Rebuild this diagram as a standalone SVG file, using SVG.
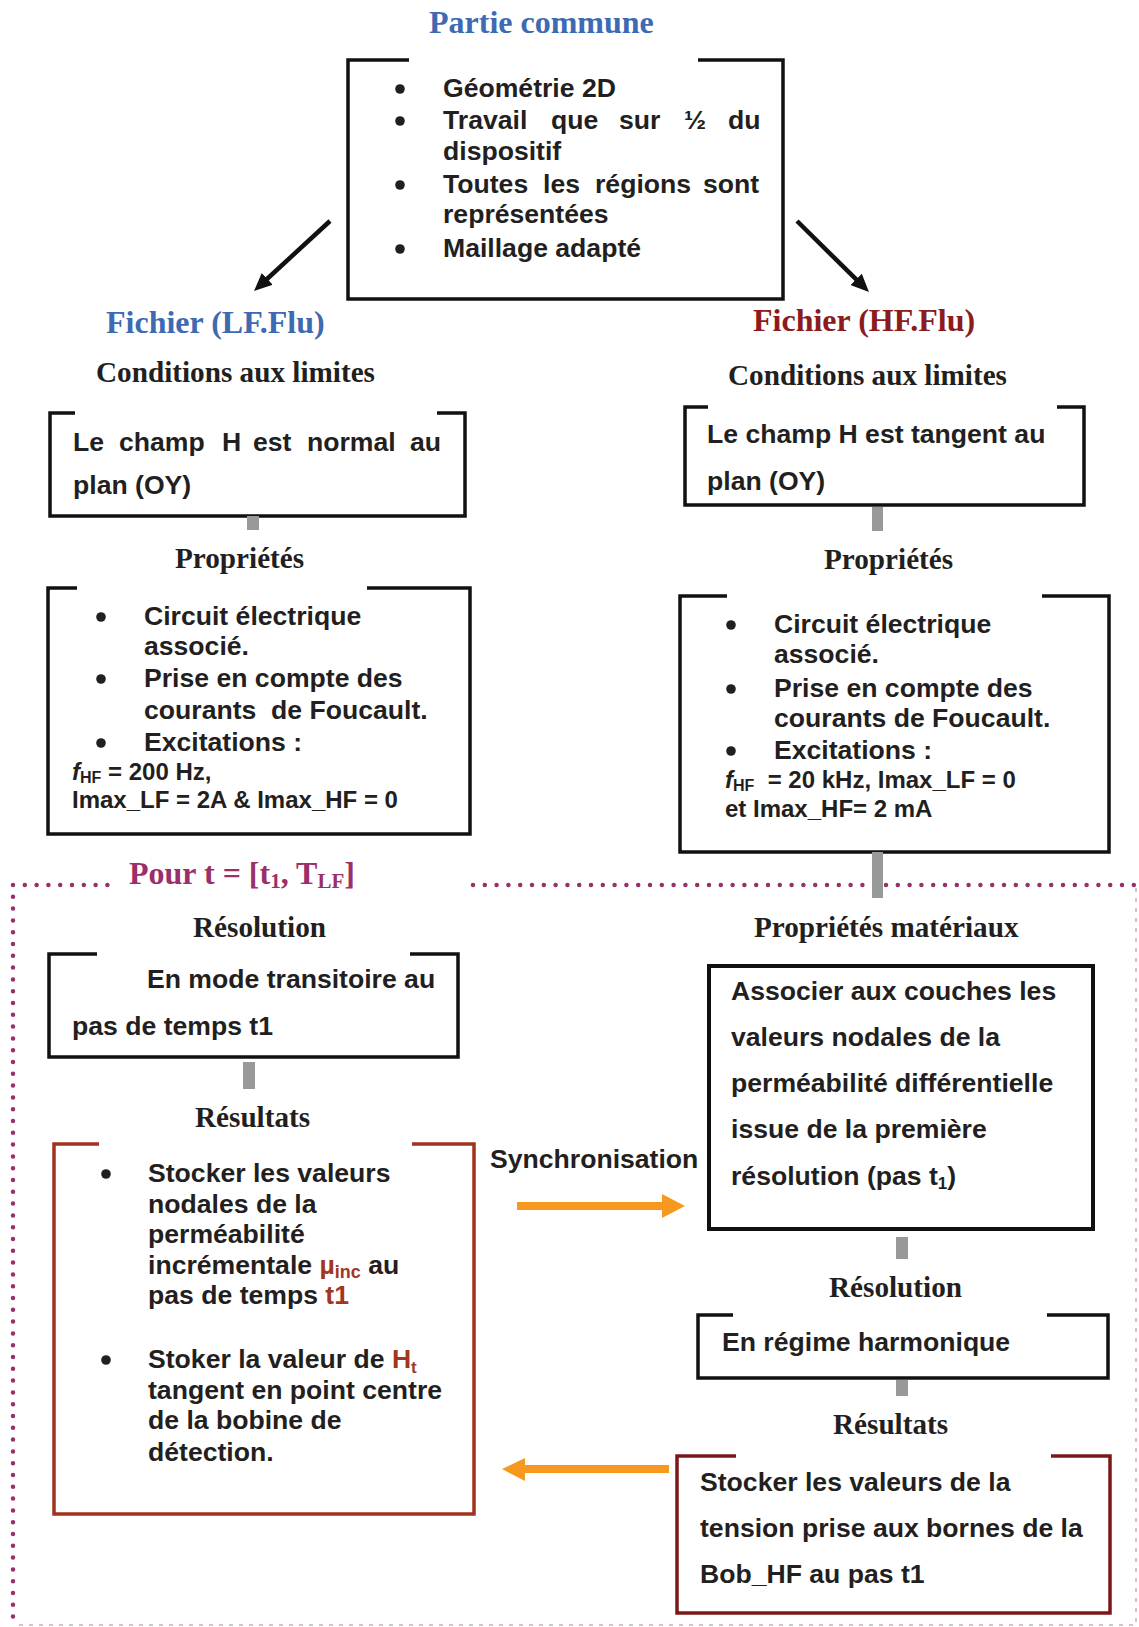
<svg xmlns="http://www.w3.org/2000/svg" width="1139" height="1627" viewBox="0 0 1139 1627">
<defs>
<style>
.s{font-family:"Liberation Sans",Arial,sans-serif;font-weight:bold;font-size:26.6px;fill:#231f20}
.sm{font-family:"Liberation Sans",Arial,sans-serif;font-weight:bold;font-size:24px;fill:#231f20}
.h{font-family:"Liberation Serif","Times New Roman",serif;font-weight:bold;font-size:29.2px;fill:#231f20}
.t{font-family:"Liberation Serif","Times New Roman",serif;font-weight:bold;font-size:32px}
.bul{fill:#231f20}
.box{fill:none;stroke:#111;stroke-width:3.5}
.rbox{fill:none;stroke:#a0331f;stroke-width:3.5}
.dbox{fill:none;stroke:#7d1618;stroke-width:3.5}
.red{fill:#a3361f}
.gray{fill:#999}
.org{fill:#f7991f}
</style>
<marker id="ah" markerUnits="userSpaceOnUse" viewBox="0 0 18 16" refX="4" refY="8" markerWidth="18" markerHeight="16" orient="auto">
<path d="M0,0 L18,8 L0,16 Z" fill="#111"/>
</marker>
</defs>
<rect width="1139" height="1627" fill="#fff"/>

<g id="loop-frame">
<path d="M13,885 H108 M473,885 H1134 M13,885 V1622" fill="none" stroke="#9b2f6a" stroke-width="4.5" stroke-linecap="round" stroke-dasharray="0 11.8"/>
<path d="M1136,888 V1625 H13" fill="none" stroke="#d9a3c2" stroke-width="1.5" stroke-dasharray="4 6"/>
<text x="129" y="884" class="t" fill="#9b2f6a" font-size="31">Pour t = [t<tspan font-size="21" dy="4">1</tspan><tspan dy="-4">, T</tspan><tspan font-size="21" dy="4">LF</tspan><tspan dy="-4">]</tspan></text>
</g>

<g id="partie-commune">
<text x="429" y="33" class="t" fill="#3d6ab3">Partie commune</text>
<path class="box" d="M409,60 H348 V299 H783 V60 H698"/>
<circle class="bul" cx="400" cy="89" r="4.8"/>
<circle class="bul" cx="400" cy="121" r="4.8"/>
<circle class="bul" cx="400" cy="185" r="4.8"/>
<circle class="bul" cx="400" cy="249" r="4.8"/>
<text x="443" y="97" class="s">Géométrie 2D</text>
<text y="129" class="s"><tspan x="443">Travail</tspan><tspan x="551">que</tspan><tspan x="619">sur</tspan><tspan x="684">½</tspan><tspan x="728">du</tspan></text>
<text x="443" y="160" class="s">dispositif</text>
<text y="193" class="s"><tspan x="443">Toutes</tspan><tspan x="543">les</tspan><tspan x="595">régions</tspan><tspan x="703">sont</tspan></text>
<text x="443" y="223" class="s">représentées</text>
<text x="443" y="257" class="s">Maillage adapté</text>
</g>

<g id="lf-cl">
<text x="106" y="333" class="t" fill="#3d6ab3">Fichier (LF.Flu)</text>
<text x="96" y="382" class="h">Conditions aux limites</text>
<path class="box" d="M75,413 H50 V516 H465 V413 H437"/>
<text y="451" class="s"><tspan x="73">Le</tspan><tspan x="119">champ</tspan><tspan x="222">H</tspan><tspan x="253">est</tspan><tspan x="307">normal</tspan><tspan x="410">au</tspan></text>
<text x="73" y="494" class="s">plan (OY)</text>
</g>

<g id="lf-prop">
<text x="175" y="568" class="h">Propriétés</text>
<path class="box" d="M77,588 H48 V834 H470 V588 H367"/>
<circle class="bul" cx="101" cy="617" r="4.8"/>
<circle class="bul" cx="101" cy="679" r="4.8"/>
<circle class="bul" cx="101" cy="743" r="4.8"/>
<text x="144" y="625" class="s">Circuit électrique</text>
<text x="144" y="655" class="s">associé.</text>
<text x="144" y="687" class="s">Prise en compte des</text>
<text x="144" y="719" class="s" xml:space="preserve">courants  de Foucault.</text>
<text x="144" y="751" class="s">Excitations :</text>
<text x="72" y="780" class="sm"><tspan font-style="italic">f</tspan><tspan font-size="16" dy="3">HF</tspan><tspan dy="-3"> = 200 Hz,</tspan></text>
<text x="72" y="808" class="sm">Imax_LF = 2A &amp; Imax_HF = 0</text>
</g>

<g id="hf-cl">
<text x="753" y="331" class="t" fill="#8b1b1d">Fichier (HF.Flu)</text>
<text x="728" y="385" class="h">Conditions aux limites</text>
<path class="box" d="M708,407 H685 V505 H1084 V407 H1057"/>
<text x="707" y="443" class="s">Le champ H est tangent au</text>
<text x="707" y="490" class="s">plan (OY)</text>
</g>

<g id="hf-prop">
<text x="824" y="569" class="h">Propriétés</text>
<path class="box" d="M727,596 H680 V852 H1109 V596 H1042"/>
<circle class="bul" cx="731" cy="625" r="4.8"/>
<circle class="bul" cx="731" cy="689" r="4.8"/>
<circle class="bul" cx="731" cy="751" r="4.8"/>
<text x="774" y="633" class="s">Circuit électrique</text>
<text x="774" y="663" class="s">associé.</text>
<text x="774" y="697" class="s">Prise en compte des</text>
<text x="774" y="727" class="s">courants de Foucault.</text>
<text x="774" y="759" class="s">Excitations :</text>
<text x="725" y="788" class="sm" xml:space="preserve"><tspan font-style="italic">f</tspan><tspan font-size="16" dy="3">HF</tspan><tspan dy="-3">  = 20 kHz, Imax_LF = 0</tspan></text>
<text x="725" y="817" class="sm">et Imax_HF= 2 mA</text>
</g>

<g id="lf-resolution">
<text x="193" y="937" class="h">Résolution</text>
<path class="box" d="M97,954 H49 V1057 H458 V954 H410"/>
<text x="147" y="988" class="s">En mode transitoire au</text>
<text x="72" y="1035" class="s">pas de temps t1</text>
</g>

<g id="lf-resultats">
<text x="195" y="1127" class="h">Résultats</text>
<path class="rbox" d="M99,1144 H54 V1514 H474 V1144 H412"/>
<circle class="bul" cx="106" cy="1174" r="4.8"/>
<circle class="bul" cx="106" cy="1360" r="4.8"/>
<text x="148" y="1182" class="s">Stocker les valeurs</text>
<text x="148" y="1213" class="s">nodales de la</text>
<text x="148" y="1243" class="s">perméabilité</text>
<text x="148" y="1274" class="s">incrémentale <tspan class="red">µ</tspan><tspan class="red" font-size="18" dy="4">inc</tspan><tspan dy="-4"> au</tspan></text>
<text x="148" y="1304" class="s">pas de temps <tspan class="red">t1</tspan></text>
<text x="148" y="1368" class="s">Stoker la valeur de <tspan class="red">H</tspan><tspan class="red" font-size="17" dy="5">t</tspan></text>
<text x="148" y="1399" class="s">tangent en point centre</text>
<text x="148" y="1429" class="s">de la bobine de</text>
<text x="148" y="1461" class="s">détection.</text>
</g>

<g id="hf-materiaux">
<text x="754" y="937" class="h">Propriétés matériaux</text>
<rect x="709" y="966" width="384" height="263" fill="none" stroke="#111" stroke-width="4"/>
<text x="731" y="1000" class="s">Associer aux couches les</text>
<text x="731" y="1046" class="s">valeurs nodales de la</text>
<text x="731" y="1092" class="s">perméabilité différentielle</text>
<text x="731" y="1138" class="s">issue de la première</text>
<text x="731" y="1185" class="s">résolution (pas t<tspan font-size="17" dy="4">1</tspan><tspan dy="-4">)</tspan></text>
</g>

<g id="hf-resolution">
<text x="829" y="1297" class="h">Résolution</text>
<path class="box" d="M733,1315 H698 V1378 H1108 V1315 H1047"/>
<text x="722" y="1351" class="s">En régime harmonique</text>
</g>

<g id="hf-resultats">
<text x="833" y="1434" class="h">Résultats</text>
<path class="dbox" d="M736,1456 H677 V1613 H1110 V1456 H1051"/>
<text x="700" y="1491" class="s">Stocker les valeurs de la</text>
<text x="700" y="1537" class="s">tension prise aux bornes de la</text>
<text x="700" y="1583" class="s">Bob_HF au pas t1</text>
</g>

<g id="connectors">
<line x1="330" y1="221" x2="264.3" y2="281.5" stroke="#111" stroke-width="4.5" marker-end="url(#ah)"/>
<line x1="797" y1="221" x2="859" y2="282.2" stroke="#111" stroke-width="4.5" marker-end="url(#ah)"/>
<rect class="gray" x="247" y="516" width="12" height="14"/>
<rect class="gray" x="872" y="507" width="11" height="24"/>
<rect class="gray" x="872" y="852" width="11" height="46"/>
<rect class="gray" x="243" y="1062" width="12" height="27"/>
<rect class="gray" x="896" y="1237" width="12" height="22"/>
<rect class="gray" x="896" y="1380" width="12" height="16"/>
<text x="490" y="1168" class="s" font-size="25.3">Synchronisation</text>
<rect class="org" x="517" y="1202" width="146" height="8"/>
<polygon class="org" points="662,1194 685,1206 662,1218"/>
<rect class="org" x="524" y="1465" width="145" height="8"/>
<polygon class="org" points="502,1469 525,1458 525,1481"/>
</g>
</svg>
